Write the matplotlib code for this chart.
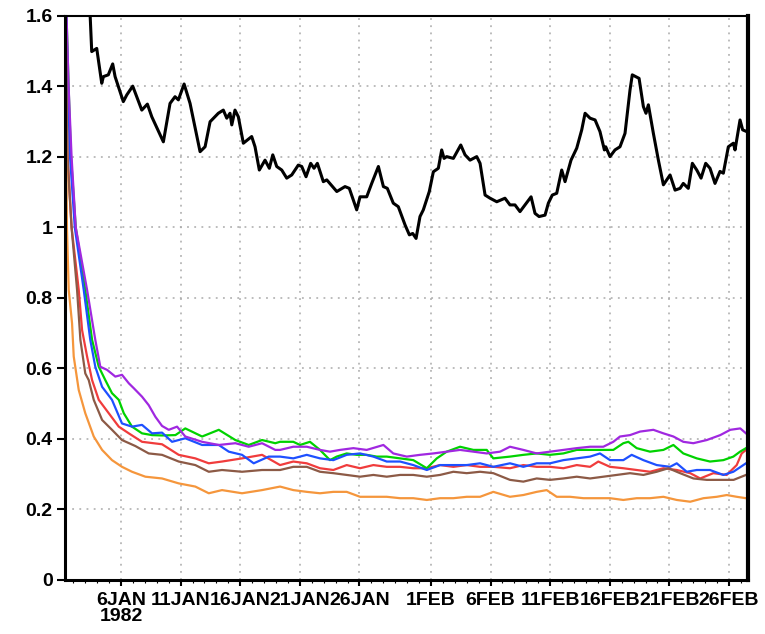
import numpy as np
import matplotlib
matplotlib.use("Agg")
import matplotlib.pyplot as plt

# x values are days after 00Z 1 JAN 1982
black_days = [2.28, 2.54, 2.96, 3.38, 3.52, 3.93, 4.30, 4.50, 5.19, 5.48, 5.98, 6.74, 7.21, 7.58,
              8.55, 9.11, 9.53, 9.81, 10.29, 10.79, 11.63, 12.05, 12.47, 13.16, 13.58, 13.87,
              14.14, 14.29, 14.56, 14.84, 15.26, 15.96, 16.24, 16.60, 17.08, 17.44, 17.73, 18.06,
              18.48, 18.90, 19.32, 19.87, 20.16, 20.52, 20.91, 21.19, 21.47, 21.97, 22.26, 23.10,
              23.79, 24.15, 24.77, 25.05, 25.61, 26.03, 26.59, 27.01, 27.34, 27.84, 28.26, 28.83,
              29.19, 29.47, 29.75, 30.08, 30.36, 30.86, 31.20, 31.62, 31.90, 32.10, 32.32, 32.88,
              33.50, 33.86, 34.28, 34.84, 35.12, 35.54, 35.96, 36.52, 37.21, 37.63, 38.05, 38.47,
              39.40, 39.73, 40.07, 40.57, 40.85, 41.18, 41.55, 41.97, 42.25, 42.75, 43.23, 43.65,
              43.93, 44.35, 44.77, 45.18, 45.55, 45.66, 46.02, 46.44, 46.86, 47.28, 47.70, 47.89,
              48.46, 48.82, 49.04, 49.24, 49.66, 50.08, 50.50, 50.78, 51.06, 51.48, 51.90, 52.17,
              52.59, 52.93, 53.30, 53.66, 54.05, 54.41, 54.83, 55.25, 55.53, 55.95, 56.37, 56.51,
              56.93, 57.15, 57.49]
black_vals = [1.70, 1.499, 1.508, 1.409, 1.428, 1.433, 1.464, 1.428, 1.357, 1.376, 1.401, 1.333,
              1.350, 1.314, 1.243, 1.352, 1.371, 1.362, 1.407, 1.352, 1.215, 1.229, 1.300, 1.324,
              1.333, 1.310, 1.324, 1.291, 1.333, 1.314, 1.239, 1.258, 1.229, 1.163, 1.191, 1.168,
              1.206, 1.173, 1.163, 1.140, 1.149, 1.177, 1.173, 1.144, 1.182, 1.168, 1.182, 1.130,
              1.135, 1.102, 1.116, 1.111, 1.050, 1.087, 1.087, 1.125, 1.173, 1.116, 1.111, 1.069,
              1.059, 1.007, 0.979, 0.983, 0.969, 1.031, 1.050, 1.102, 1.158, 1.168, 1.220, 1.196,
              1.201, 1.196, 1.234, 1.206, 1.191, 1.201, 1.182, 1.092, 1.083, 1.073, 1.083, 1.064,
              1.064, 1.045, 1.087, 1.040, 1.031, 1.035, 1.069, 1.092, 1.097, 1.163, 1.130, 1.191,
              1.225, 1.277, 1.324, 1.310, 1.305, 1.272, 1.220, 1.229, 1.201, 1.220, 1.229, 1.267,
              1.390, 1.433, 1.423, 1.343, 1.324, 1.348, 1.267, 1.191, 1.121, 1.135, 1.149, 1.106,
              1.111, 1.125, 1.111, 1.182, 1.163, 1.140, 1.182, 1.168, 1.125, 1.159, 1.154, 1.229,
              1.239, 1.220, 1.305, 1.277, 1.272]

# shared sampling days of the coloured curves in mid-period
mid_days = [18.34, 19.45, 20.58, 21.69, 22.81, 23.93, 25.05, 26.17, 27.29, 28.41, 29.52, 30.65,
            31.76, 32.88, 34.00, 35.12, 36.23]

orange_days = [0.30, 0.40, 0.46, 0.61, 0.89, 1.03, 1.45, 2.00, 2.71, 3.41, 4.24, 5.08, 5.92, 7.04,
               8.44, 9.84, 11.23, 12.36, 13.47, 15.15, 16.83] + mid_days + \
              [37.63, 38.75, 39.87, 40.71, 41.55, 42.67, 43.79, 44.91, 46.02, 47.14, 48.26, 49.38,
               50.50, 51.62, 52.75, 53.86, 54.98, 55.82, 56.65, 57.43]
orange_vals = [1.75, 1.20, 1.00, 0.823, 0.728, 0.634, 0.539, 0.473, 0.407, 0.369, 0.340, 0.321,
               0.307, 0.293, 0.288, 0.274, 0.265, 0.246, 0.255, 0.246, 0.255,
               0.265, 0.255, 0.250, 0.246, 0.250, 0.250, 0.236, 0.236, 0.236, 0.232, 0.232, 0.227,
               0.232, 0.232, 0.236, 0.236, 0.250,
               0.236, 0.241, 0.250, 0.255, 0.236, 0.236, 0.232, 0.232, 0.232, 0.227, 0.232, 0.232,
               0.236, 0.227, 0.222, 0.232, 0.236, 0.241, 0.236, 0.232]

brown_days = [0.30, 0.50, 0.85, 1.31, 1.59, 2.00, 2.29, 2.71, 3.41, 4.24, 5.08, 6.20, 7.32, 8.44,
              9.84, 11.23, 12.36, 13.47, 15.15, 16.83] + mid_days + \
             [37.63, 38.75, 39.87, 40.99, 42.11, 43.23, 44.35, 45.46, 46.58, 47.70, 48.82, 49.94,
              50.92, 51.90, 53.02, 54.14, 55.27, 56.39, 57.43]
brown_vals = [1.75, 1.20, 1.00, 0.823, 0.681, 0.586, 0.567, 0.511, 0.454, 0.426, 0.397, 0.380,
              0.359, 0.355, 0.336, 0.326, 0.307, 0.312, 0.307, 0.312,
              0.312, 0.321, 0.321, 0.307, 0.303, 0.298, 0.293, 0.298, 0.293, 0.298, 0.298, 0.293,
              0.298, 0.307, 0.303, 0.307, 0.303,
              0.284, 0.279, 0.288, 0.284, 0.288, 0.293, 0.288, 0.293, 0.298, 0.303, 0.298, 0.307,
              0.317, 0.303, 0.288, 0.284, 0.284, 0.284, 0.298]

red_days = [0.30, 0.52, 0.85, 1.45, 1.73, 2.15, 2.57, 3.13, 3.97, 4.81, 5.65, 6.76, 8.44, 9.84,
            11.23, 12.36, 13.47, 15.15, 16.83] + mid_days + \
           [37.63, 38.75, 39.87, 40.99, 42.11, 43.23, 44.35, 45.04, 46.02, 47.14, 48.26, 49.38,
            50.50, 51.62, 52.75, 53.59, 54.69, 55.81, 56.65, 57.07, 57.43]
red_vals = [1.75, 1.20, 1.00, 0.823, 0.709, 0.634, 0.567, 0.511, 0.473, 0.435, 0.416, 0.392,
            0.385, 0.355, 0.345, 0.331, 0.336, 0.345, 0.355,
            0.326, 0.336, 0.331, 0.317, 0.312, 0.326, 0.317, 0.326, 0.321, 0.321, 0.317, 0.317,
            0.326, 0.321, 0.326, 0.321, 0.321,
            0.317, 0.326, 0.321, 0.321, 0.317, 0.326, 0.321, 0.336, 0.321, 0.317, 0.312, 0.307,
            0.317, 0.312, 0.303, 0.288, 0.303, 0.298, 0.326, 0.359, 0.369]

blue_days = [0.30, 0.55, 0.72, 1.12, 1.87, 2.42, 2.84, 3.41, 4.24, 5.08, 5.92, 6.76, 7.60, 8.44,
             9.28, 10.39, 11.80, 13.20, 14.04, 15.15, 16.13, 17.39] + mid_days + \
            [37.63, 38.75, 39.87, 40.99, 42.11, 43.23, 44.35, 45.18, 46.02, 47.14, 47.84, 48.82,
             49.94, 51.06, 51.62, 52.46, 53.30, 54.41, 55.53, 56.37, 57.43]
blue_vals = [1.75, 1.40, 1.20, 1.00, 0.823, 0.681, 0.605, 0.548, 0.511, 0.444, 0.435, 0.440,
             0.416, 0.418, 0.392, 0.402, 0.383, 0.383, 0.364, 0.355, 0.331, 0.350,
             0.350, 0.345, 0.355, 0.345, 0.340, 0.355, 0.359, 0.350, 0.336, 0.336, 0.326, 0.312,
             0.326, 0.326, 0.326, 0.331, 0.321,
             0.331, 0.321, 0.331, 0.331, 0.340, 0.345, 0.350, 0.359, 0.340, 0.340, 0.355, 0.340,
             0.326, 0.321, 0.331, 0.307, 0.312, 0.312, 0.298, 0.307, 0.331]

green_days = [0.30, 0.60, 0.80, 1.20, 2.00, 2.57, 3.13, 3.68, 4.24, 4.81, 5.23, 5.92, 6.76, 7.60,
              8.44, 9.56, 10.39, 11.80, 13.20, 14.59, 15.71, 16.83, 17.94,
              18.34, 18.90, 19.45, 20.02, 20.85, 21.69, 22.53, 23.09, 23.93, 24.77, 25.61, 26.45,
              27.29, 28.41, 29.52, 30.65, 31.49, 32.32, 33.44, 34.56, 35.68, 36.23,
              37.63, 38.75, 39.87, 40.99, 42.11, 43.23, 44.35, 45.46, 46.30, 47.14, 47.56, 48.26,
              49.38, 50.50, 51.34, 52.17, 53.30, 54.41, 55.53, 56.37, 56.93, 57.43]
green_vals = [1.75, 1.40, 1.20, 1.00, 0.823, 0.681, 0.605, 0.567, 0.530, 0.511, 0.473, 0.435,
              0.416, 0.411, 0.410, 0.411, 0.430, 0.407, 0.426, 0.397, 0.383, 0.397, 0.388,
              0.392, 0.392, 0.392, 0.383, 0.392, 0.369, 0.340, 0.350, 0.359, 0.355, 0.355, 0.350,
              0.350, 0.345, 0.340, 0.317, 0.345, 0.364, 0.378, 0.369, 0.369, 0.345,
              0.350, 0.355, 0.359, 0.355, 0.359, 0.369, 0.369, 0.369, 0.369, 0.388, 0.392, 0.374,
              0.364, 0.369, 0.383, 0.359, 0.345, 0.336, 0.340, 0.350, 0.364, 0.374]

purple_days = [0.30, 0.60, 0.85, 1.20, 2.15, 2.84, 3.26, 3.83, 4.52, 5.08, 5.65, 6.07, 6.76, 7.32,
               7.88, 8.44, 9.00, 9.70, 10.39, 11.80, 13.20, 14.59, 15.71, 16.83, 17.94,
               18.34, 19.45, 20.58, 21.69, 22.53, 23.37, 24.49, 25.61, 27.01, 27.84, 28.97, 30.08,
               31.20, 32.32, 33.44, 34.56, 35.68, 36.80,
               37.63, 38.75, 39.87, 40.99, 42.11, 43.23, 44.35, 45.46, 46.30, 46.86, 47.70, 48.54,
               49.66, 50.50, 51.34, 52.17, 53.01, 54.14, 55.27, 56.11, 56.95, 57.43]
purple_vals = [1.75, 1.40, 1.20, 1.00, 0.823, 0.681, 0.605, 0.596, 0.577, 0.582, 0.558, 0.544,
               0.520, 0.496, 0.463, 0.437, 0.426, 0.435, 0.407, 0.392, 0.383, 0.388, 0.378, 0.388,
               0.369,
               0.369, 0.378, 0.378, 0.369, 0.364, 0.369, 0.374, 0.369, 0.383, 0.359, 0.350, 0.355,
               0.359, 0.364, 0.369, 0.364, 0.359, 0.364,
               0.378, 0.369, 0.359, 0.364, 0.369, 0.374, 0.378, 0.378, 0.392, 0.407, 0.411, 0.421,
               0.426, 0.416, 0.407, 0.392, 0.388, 0.397, 0.411, 0.426, 0.430, 0.416]

tick_days = [5, 10, 15, 20, 25, 31, 36, 41, 46, 51, 56]
tick_labels = ['6JAN\n1982', '11JAN', '16JAN', '21JAN', '26JAN', '1FEB', '6FEB',
               '11FEB', '16FEB', '21FEB', '26FEB']
y_ticks = [0, 0.2, 0.4, 0.6, 0.8, 1.0, 1.2, 1.4, 1.6]
y_labels = ['0', '0.2', '0.4', '0.6', '0.8', '1', '1.2', '1.4', '1.6']

series = [
    (red_days, red_vals, '#f03c3c'),
    (green_days, green_vals, '#00d200'),
    (blue_days, blue_vals, '#1e50ff'),
    (purple_days, purple_vals, '#a028e0'),
    (brown_days, brown_vals, '#8c5a46'),
    (orange_days, orange_vals, '#f5963c'),
]

plt.rcParams['font.family'] = ['Liberation Sans', 'DejaVu Sans']

fig = plt.figure(figsize=(7.65, 6.34), dpi=100)
ax = fig.add_axes([0.085, 0.0852, 0.8928, 0.8896])

for d, v, c in series:
    ax.plot(d, v, color=c, lw=1.6, solid_joinstyle='round')
ax.plot(black_days, black_vals, color='black', lw=2.2, solid_joinstyle='round')

ax.set_xlim(0.30, 57.6)
ax.set_ylim(0, 1.6)
ax.set_xticks(tick_days)
ax.set_xticklabels(tick_labels, fontsize=14, fontweight='bold', linespacing=0.9)
ax.set_yticks(y_ticks)
ax.set_yticklabels(y_labels, fontsize=14, fontweight='bold')
ax.set_xticks(np.arange(1, 58), minor=True)
ax.tick_params(axis='x', which='major', length=4, width=1.5, pad=5)
ax.tick_params(axis='x', which='minor', length=2, width=0.8)
ax.tick_params(axis='y', which='major', length=6, width=1.5, pad=3)

ax.grid(True, which='major', color='#aaaaaa', linestyle=(0, (1.2, 3.5)), linewidth=1.1)

ax.spines['left'].set_linewidth(2.2)
ax.spines['bottom'].set_linewidth(2.2)
ax.spines['top'].set_linewidth(1.5)
ax.spines['right'].set_linewidth(3.0)

fig.savefig('out.png', dpi=100)
